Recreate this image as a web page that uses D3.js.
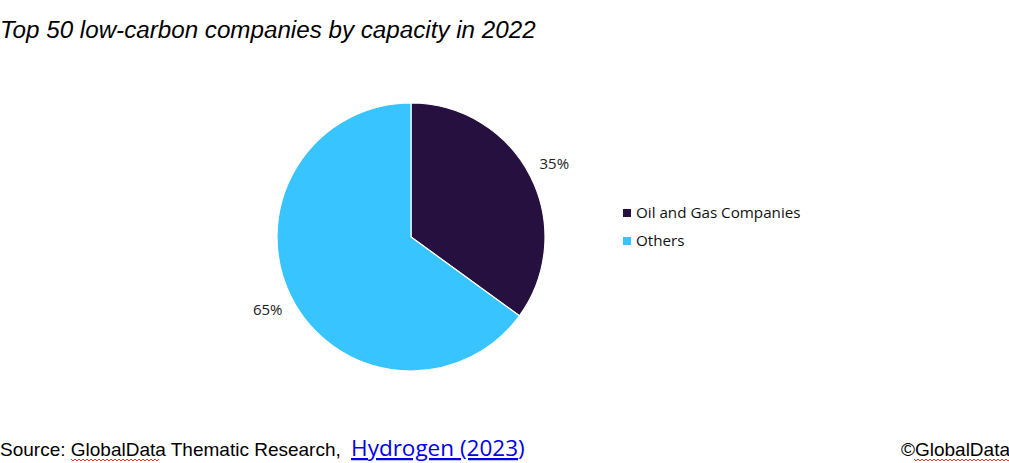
<!DOCTYPE html>
<html><head><meta charset="utf-8">
<script src="https://cdn.jsdelivr.net/npm/d3@7"></script>
<style>html,body{margin:0;padding:0;background:#fff;}svg{display:block;}</style>
</head><body>
<script>
const categories = ["Oil and Gas Companies", "Others"];
const values = [35, 65];
const labels = ["35%", "65%"];
const colors = ["#261040", "#38C4FF"];

const W = 1009, H = 463;
const svg = d3.select("body").append("svg").attr("width", W).attr("height", H);

svg.append("text").attr("x", 0).attr("y", 38)
  .attr("font-family", "Liberation Sans, Arial, sans-serif").attr("font-style", "italic")
  .attr("font-size", 24.2).attr("fill", "#000").text("Top 50 low-carbon companies by capacity in 2022");

const cx = 411, cy = 237, r = 134;
const pie = d3.pie().sort(null)(values);
const arc = d3.arc().innerRadius(0).outerRadius(r);
const g = svg.append("g").attr("transform", `translate(${cx},${cy})`);
g.selectAll("path").data(pie).join("path")
  .attr("d", arc).attr("fill", (d, i) => colors[i])
  .attr("stroke", "#fff").attr("stroke-width", 1.2);

const labelArc = d3.arc().innerRadius(r * 1.2).outerRadius(r * 1.2);
g.selectAll("text.lbl").data(pie).join("text").attr("class", "lbl")
  .attr("transform", d => { const c = labelArc.centroid(d); return `translate(${c[0]},${c[1]})`; })
  .attr("text-anchor", "middle").attr("dy", "0.35em")
  .attr("font-family", "Open Sans, Noto Sans, sans-serif").attr("font-size", 15).attr("fill", "#222")
  .text((d, i) => labels[i]);

const leg = svg.append("g").attr("transform", "translate(623,213)");
categories.forEach((c, i) => {
  leg.append("rect").attr("x", 0).attr("y", i * 28 - 4).attr("width", 8).attr("height", 8).attr("fill", colors[i]);
  leg.append("text").attr("x", 13).attr("y", i * 28).attr("dy", "0.35em")
    .attr("font-family", "Open Sans, Noto Sans, sans-serif").attr("font-size", 15.2).attr("fill", "#111").text(c);
});

const foot = svg.append("text").attr("x", 0).attr("y", 456)
  .attr("font-family", "Liberation Sans, Arial, sans-serif").attr("font-size", 19).attr("fill", "#000");
foot.append("tspan").text("Source: GlobalData Thematic Research, ");
foot.append("tspan").attr("dx", 5).attr("font-family", "Open Sans, Noto Sans, sans-serif").attr("font-size", 22.5)
  .attr("fill", "#0000EE").attr("text-decoration", "underline").text("Hydrogen (2023");
foot.append("tspan").attr("font-family", "Open Sans, Noto Sans, sans-serif").attr("font-size", 22.5)
  .attr("fill", "#0000EE").text(")");

svg.append("text").attr("x", W + 1).attr("y", 456).attr("text-anchor", "end")
  .attr("font-family", "Liberation Sans, Arial, sans-serif").attr("font-size", 19).attr("fill", "#000").text("©GlobalData");

function squiggle(x0, x1, y) {
  let d = `M${x0},${y}`;
  for (let x = x0, k = 0; x < x1; x += 2, k++) d += `L${x + 2},${y + (k % 2 ? 0 : 2)}`;
  svg.append("path").attr("d", d).attr("fill", "none").attr("stroke", "#e00").attr("stroke-width", 0.8);
}
squiggle(71, 158, 459);
squiggle(914, 1009, 459);
</script>
</body></html>
